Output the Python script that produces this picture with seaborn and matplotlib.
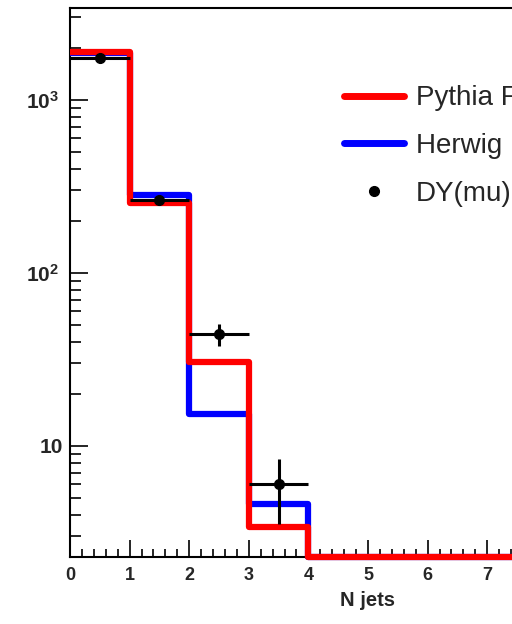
import numpy as np
import pandas as pd
import seaborn as sns
import matplotlib.pyplot as plt
from matplotlib.lines import Line2D
from matplotlib.transforms import ScaledTranslation
from matplotlib.ticker import MultipleLocator, LogLocator, FixedLocator, FixedFormatter, NullFormatter

# jet multiplicity histograms
bin_edges = [0, 1, 2, 3, 4, 5, 6, 7, 8, 9, 10]
pythia = [1893, 254, 30.6, 3.4, 0, 0, 0, 0, 0, 0]
herwig = [1880, 282, 15.3, 4.6, 0, 0, 0, 0, 0, 0]

# data points (DY mumu)
data_x = [0.5, 1.5, 2.5, 3.5]
data_y = [1750, 263, 44.4, 6.0]
data_err = [42, 16, 6.6, 2.45]

ymin, ymax = 2.28, 3390

sns.set_style("ticks")
plt.rcParams['font.family'] = ['Liberation Sans', 'DejaVu Sans']
plt.rcParams['mathtext.fontset'] = 'custom'
plt.rcParams['mathtext.rm'] = 'Liberation Sans'
plt.rcParams['mathtext.bf'] = 'Liberation Sans:bold'

fig = plt.figure(figsize=(5.12, 6.24), dpi=100)
fig.patch.set_facecolor('white')
ax = fig.add_axes([70 / 512, 1 - 557 / 624, 596 / 512, (557 - 8.3) / 624])
ax.set_facecolor('white')


def step_frame(vals):
    # empty bins drawn at the bottom of the log axis, like ROOT
    v = np.where(np.array(vals) > 0, vals, ymin)
    return pd.DataFrame({'x': bin_edges, 'y': np.append(v, v[-1])})


sns.lineplot(data=step_frame(herwig), x='x', y='y', ax=ax, color='#0000ff', lw=4.5,
             drawstyle='steps-post', estimator=None, clip_on=False, zorder=3,
             solid_capstyle='butt')
sns.lineplot(data=step_frame(pythia), x='x', y='y', ax=ax, color='#ff0000', lw=4.5,
             drawstyle='steps-post', estimator=None, clip_on=False, zorder=3,
             solid_capstyle='butt')

ax.errorbar(data_x, data_y, yerr=data_err, xerr=0.5, fmt='o', color='black',
            ms=7, elinewidth=2.2, capsize=0, zorder=4)

ax.set_yscale('log')
ax.set_xlim(0, 10)
ax.set_ylim(ymin, ymax)

ax.xaxis.set_major_locator(FixedLocator(range(0, 8)))
ax.xaxis.set_minor_locator(MultipleLocator(0.2))
ax.yaxis.set_major_locator(FixedLocator([10, 100, 1000]))
ax.yaxis.set_major_formatter(FixedFormatter(['10', r'$\mathbf{10^{2}}$', r'$\mathbf{10^{3}}$']))
ax.yaxis.set_minor_locator(LogLocator(base=10, subs=np.arange(2, 10)))
ax.yaxis.set_minor_formatter(NullFormatter())

ax.tick_params(axis='both', which='both', direction='in', width=1.2, color='black')
ax.tick_params(axis='x', which='major', length=12, pad=7, labelsize=13)
ax.tick_params(axis='x', which='minor', length=6)
ax.tick_params(axis='y', which='major', length=13, pad=5, labelsize=15)
ax.tick_params(axis='y', which='minor', length=8)
for lab in ax.get_xticklabels() + ax.get_yticklabels():
    lab.set_fontweight('bold')

# ROOT puts the power labels a bit further from the axis
shift = ScaledTranslation(-4 / 100, 0, fig.dpi_scale_trans)
for tick in ax.yaxis.get_major_ticks()[1:]:
    tick.label1.set_transform(tick.label1.get_transform() + shift)

for side in ['left', 'bottom', 'top']:
    ax.spines[side].set_linewidth(1.5)
    ax.spines[side].set_color('black')
ax.spines['right'].set_visible(False)

ax.set_xlabel('N jets', fontsize=14.5, fontweight='bold', labelpad=5)
ax.set_ylabel('')

handles = [
    Line2D([], [], color='#ff0000', lw=5),
    Line2D([], [], color='#0000ff', lw=5),
    Line2D([], [], color='black', marker='o', ls='none', ms=7),
]
labels = ['Pythia FullSim', 'Herwig FullSim', 'DY(mu)']
fig.legend(handles, labels, loc='center left', bbox_to_anchor=(344 / 512, 1 - 146 / 624),
           frameon=False, fontsize=20, handlelength=2.15, handletextpad=0.45,
           labelspacing=0.78, borderpad=0, borderaxespad=0)

fig.savefig('out.png', dpi=100)
